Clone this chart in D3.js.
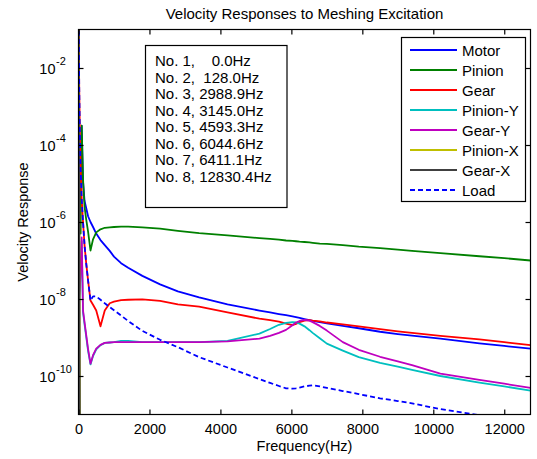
<!DOCTYPE html>
<html>
<head>
<meta charset="utf-8">
<script src="https://cdn.jsdelivr.net/npm/d3@7"></script>
<style>
  body { margin: 0; background: #fff; }
  text { font-family: "Liberation Sans", Arial, sans-serif; fill: #000; }
</style>
</head>
<body>
<svg id="chart" width="537" height="459"></svg>
<script>
// Frequency grid (Hz)
const freq = [0, 20, 40, 60, 90, 128, 170, 220, 270, 338, 410, 500, 620, 740, 880, 1000,
  1200, 1400, 1800, 2300, 2800, 3400, 4200, 5100, 5400, 5650, 5850, 6030, 6130, 6230,
  6370, 6510, 6600, 6800, 7000, 7450, 7900, 8500, 9000, 9400, 10200, 11300, 12000, 12740];

// Velocity responses at each frequency
const motor = [1, 6.31e-5, 1e-5, 5.01e-6, 3.16e-4, 1.12e-5, 3.55e-6, 2.24e-6, 1.41e-6, 1.0e-6,
  7.41e-7, 5.01e-7, 3.39e-7, 2.51e-7, 1.78e-7, 1.26e-7, 8.51e-8, 6.46e-8, 3.98e-8, 2.40e-8,
  1.58e-8, 1.10e-8, 7.24e-9, 5.01e-9, 4.47e-9, 4.07e-9, 3.80e-9, 3.55e-9, 3.39e-9, 3.24e-9,
  3.02e-9, 2.82e-9, 2.69e-9, 2.51e-9, 2.34e-9, 2.0e-9, 1.74e-9, 1.41e-9, 1.23e-9, 1.12e-9,
  9.33e-10, 7.08e-10, 6.03e-10, 5.13e-10];

const pinion = [1, 3.16e-5, 1.58e-6, 5.01e-7, 3.16e-4, 1.26e-5, 2.51e-6, 1.12e-6, 5.62e-7, 1.82e-7,
  3.55e-7, 5.37e-7, 6.46e-7, 7.08e-7, 7.24e-7, 7.41e-7, 7.59e-7, 7.59e-7, 7.24e-7, 6.76e-7,
  5.89e-7, 5.13e-7, 4.47e-7, 3.80e-7, 3.63e-7, 3.47e-7, 3.31e-7, 3.24e-7, 3.16e-7, 3.09e-7,
  3.02e-7, 2.95e-7, 2.88e-7, 2.75e-7, 2.69e-7, 2.51e-7, 2.29e-7, 2.09e-7, 1.91e-7, 1.78e-7,
  1.55e-7, 1.29e-7, 1.15e-7, 1.0e-7];

const gear = [1, 3.16e-3, 1.58e-4, 2.51e-5, 3.98e-6, 1.0e-6, 2.51e-7, 7.94e-8, 3.02e-8, 9.12e-9,
  7.08e-9, 5.01e-9, 1.95e-9, 5.01e-9, 7.76e-9, 8.51e-9, 9.33e-9, 9.55e-9, 9.77e-9, 8.91e-9,
  7.24e-9, 6.31e-9, 4.47e-9, 3.09e-9, 2.82e-9, 2.57e-9, 2.29e-9, 2.09e-9, 2.24e-9, 2.51e-9,
  2.75e-9, 2.82e-9, 2.75e-9, 2.63e-9, 2.45e-9, 2.19e-9, 1.95e-9, 1.66e-9, 1.45e-9, 1.32e-9,
  1.10e-9, 8.91e-10, 7.59e-10, 6.31e-10];

const pinionY = [7.94e-9, 1.0e-8, 2.0e-8, 5.01e-8, 3.16e-7, 4.47e-9, 2.24e-9, 1.0e-9, 4.47e-10, 2.0e-10,
  3.31e-10, 4.90e-10, 6.31e-10, 7.24e-10, 7.41e-10, 7.59e-10, 8.13e-10, 8.13e-10, 7.59e-10, 7.59e-10,
  7.59e-10, 7.59e-10, 8.13e-10, 1.26e-9, 1.66e-9, 2.14e-9, 2.40e-9, 2.51e-9, 2.45e-9, 2.29e-9,
  1.95e-9, 1.55e-9, 1.32e-9, 9.55e-10, 6.92e-10, 4.57e-10, 3.09e-10, 2.19e-10, 1.74e-10, 1.45e-10,
  1.0e-10, 6.76e-11, 5.37e-11, 4.17e-11];

const gearY = [1.0e-8, 1.26e-8, 2.51e-8, 6.31e-8, 3.98e-7, 5.01e-9, 2.51e-9, 1.12e-9, 5.01e-10, 2.09e-10,
  3.47e-10, 5.13e-10, 6.46e-10, 7.24e-10, 7.41e-10, 7.59e-10, 7.59e-10, 7.59e-10, 7.59e-10, 7.59e-10,
  7.59e-10, 7.59e-10, 7.94e-10, 9.33e-10, 1.10e-9, 1.32e-9, 1.58e-9, 2.09e-9, 2.45e-9, 2.69e-9,
  2.88e-9, 2.75e-9, 2.51e-9, 2.0e-9, 1.51e-9, 7.59e-10, 4.79e-10, 3.16e-10, 2.40e-10, 1.91e-10,
  1.15e-10, 7.94e-11, 6.31e-11, 4.90e-11];

const pinionX = [1, 7.94e-6, 3.16e-12, 1e-13, 1e-13, 1e-13, 1e-13, 1e-13, 1e-13, 1e-13,
  1e-13, 1e-13, 1e-13, 1e-13, 1e-13, 1e-13, 1e-13, 1e-13, 1e-13, 1e-13,
  1e-13, 1e-13, 1e-13, 1e-13, 1e-13, 1e-13, 1e-13, 1e-13, 1e-13, 1e-13,
  1e-13, 1e-13, 1e-13, 1e-13, 1e-13, 1e-13, 1e-13, 1e-13, 1e-13, 1e-13,
  1e-13, 1e-13, 1e-13, 1e-13];

const gearX = [1, 7.94e-6, 3.16e-12, 1e-13, 1e-13, 1e-13, 1e-13, 1e-13, 1e-13, 1e-13,
  1e-13, 1e-13, 1e-13, 1e-13, 1e-13, 1e-13, 1e-13, 1e-13, 1e-13, 1e-13,
  1e-13, 1e-13, 1e-13, 1e-13, 1e-13, 1e-13, 1e-13, 1e-13, 1e-13, 1e-13,
  1e-13, 1e-13, 1e-13, 1e-13, 1e-13, 1e-13, 1e-13, 1e-13, 1e-13, 1e-13,
  1e-13, 1e-13, 1e-13, 1e-13];

const load = [1, 3.16e-3, 1.58e-4, 2.51e-5, 3.98e-6, 1.0e-6, 2.51e-7, 7.94e-8, 3.02e-8, 9.12e-9,
  1.17e-8, 1.17e-8, 9.55e-9, 7.76e-9, 6.17e-9, 5.13e-9, 3.72e-9, 2.69e-9, 1.48e-9, 8.71e-10,
  5.62e-10, 3.09e-10, 1.66e-10, 8.32e-11, 6.61e-11, 5.50e-11, 4.79e-11, 4.68e-11, 4.79e-11, 5.01e-11,
  5.37e-11, 5.62e-11, 5.75e-11, 5.37e-11, 4.90e-11, 4.07e-11, 3.39e-11, 2.63e-11, 2.24e-11, 1.95e-11,
  1.38e-11, 9.55e-12, 7.08e-12, 5.25e-12];

const seriesNames = ["Motor", "Pinion", "Gear", "Pinion-Y", "Gear-Y", "Pinion-X", "Gear-X", "Load"];
const seriesValues = [motor, pinion, gear, pinionY, gearY, pinionX, gearX, load];
const seriesColors = ["#0000ff", "#008000", "#ff0000", "#00bfbf", "#bf00bf", "#bfbf00", "#404040", "#0000ff"];
const seriesDash = [null, null, null, null, null, null, null, "5,3"];

const modeLabels = ["No. 1,    0.0Hz", "No. 2,  128.0Hz", "No. 3, 2988.9Hz", "No. 4, 3145.0Hz",
  "No. 5, 4593.3Hz", "No. 6, 6044.6Hz", "No. 7, 6411.1Hz", "No. 8, 12830.4Hz"];

const xTicks = [0, 2000, 4000, 6000, 8000, 10000, 12000];
const yTicks = [1e-10, 1e-8, 1e-6, 1e-4, 1e-2];

// Layout
const box = { left: 78.5, right: 530.5, top: 29.5, bottom: 414.5 };
const svg = d3.select("#chart");

const x = d3.scaleLinear().domain([0, 12740]).range([box.left, box.right]);
const y = d3.scaleLog().domain([1e-11, 1e-1]).range([box.bottom, box.top]);

svg.append("defs").append("clipPath").attr("id", "plotClip")
  .append("rect")
  .attr("x", box.left).attr("y", box.top)
  .attr("width", box.right - box.left).attr("height", box.bottom - box.top);

svg.append("rect")
  .attr("x", box.left).attr("y", box.top)
  .attr("width", box.right - box.left).attr("height", box.bottom - box.top)
  .attr("fill", "#fff");

// Response curves
const line = d3.line()
  .x((d, i) => x(freq[i]))
  .y(d => y(d));

const curves = svg.append("g").attr("clip-path", "url(#plotClip)");
seriesValues.forEach((vals, k) => {
  curves.append("path")
    .attr("d", line(vals))
    .attr("fill", "none")
    .attr("stroke", seriesColors[k])
    .attr("stroke-width", 1.8)
    .attr("stroke-linejoin", "round")
    .attr("stroke-dasharray", seriesDash[k]);
});

// Axes with inward ticks on all four sides
const styleAxis = g => {
  g.select(".domain").remove();
  g.selectAll(".tick line").attr("stroke", "#000").attr("stroke-width", 1.2);
  g.selectAll(".tick text").style("font-size", "14.5px").attr("fill", "#000");
};

svg.append("g").attr("transform", `translate(0,${box.bottom})`)
  .call(d3.axisBottom(x).tickValues(xTicks).tickSize(-5).tickPadding(9).tickFormat(d3.format("d")))
  .call(styleAxis);
svg.append("g").attr("transform", `translate(0,${box.top})`)
  .call(d3.axisTop(x).tickValues(xTicks).tickSize(-5).tickFormat(""))
  .call(styleAxis);
const gy = svg.append("g").attr("transform", `translate(${box.left},0)`)
  .call(d3.axisLeft(y).tickValues(yTicks).tickSize(-5).tickFormat(""))
  .call(styleAxis);
svg.append("g").attr("transform", `translate(${box.right},0)`)
  .call(d3.axisRight(y).tickValues(yTicks).tickSize(-5).tickFormat(""))
  .call(styleAxis);

// Power-of-ten labels
gy.selectAll(".tick").each(function(d) {
  const t = d3.select(this);
  t.append("text").attr("x", -23).attr("y", 5).attr("text-anchor", "end")
    .style("font-size", "14.5px").text("10");
  t.append("text").attr("x", -22.5).attr("y", -4).attr("text-anchor", "start")
    .style("font-size", "11px").text(String(Math.round(Math.log10(d))));
});

svg.append("rect")
  .attr("x", box.left).attr("y", box.top)
  .attr("width", box.right - box.left).attr("height", box.bottom - box.top)
  .attr("fill", "none").attr("stroke", "#000").attr("stroke-width", 1.2);

// Titles
svg.append("text").attr("x", (box.left + box.right) / 2).attr("y", 19)
  .attr("text-anchor", "middle").style("font-size", "15px")
  .text("Velocity Responses to Meshing Excitation");
svg.append("text").attr("x", (box.left + box.right) / 2).attr("y", 451)
  .attr("text-anchor", "middle").style("font-size", "14.5px")
  .text("Frequency(Hz)");
svg.append("text")
  .attr("transform", `translate(28,${(box.top + box.bottom) / 2}) rotate(-90)`)
  .attr("text-anchor", "middle").style("font-size", "14.5px")
  .text("Velocity Response");

// Natural frequency list
const modes = svg.append("g");
modes.append("rect").attr("x", 145.5).attr("y", 45.5).attr("width", 141.5).attr("height", 162)
  .attr("fill", "#fff").attr("stroke", "#000").attr("stroke-width", 1.2);
modes.selectAll("text.mode").data(modeLabels).join("text")
  .attr("class", "mode")
  .attr("x", 155).attr("y", (d, i) => 66 + i * 16.55)
  .style("font-size", "15px").style("white-space", "pre").attr("xml:space", "preserve")
  .text(d => d);

// Legend
const legend = svg.append("g");
legend.append("rect").attr("x", 401.5).attr("y", 37.5).attr("width", 124).attr("height", 164)
  .attr("fill", "#fff").attr("stroke", "#000").attr("stroke-width", 1.2);
seriesNames.forEach((name, k) => {
  const cy = 50 + k * 20;
  legend.append("line").attr("x1", 410).attr("x2", 457).attr("y1", cy).attr("y2", cy)
    .attr("stroke", seriesColors[k]).attr("stroke-width", 1.8)
    .attr("stroke-dasharray", seriesDash[k]);
  legend.append("text").attr("x", 462).attr("y", cy + 5.5)
    .style("font-size", "15px").text(name);
});
</script>
</body>
</html>
